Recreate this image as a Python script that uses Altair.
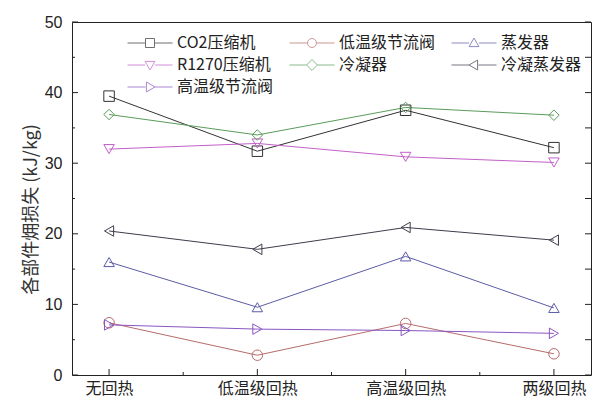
import json
import altair as alt
import pandas as pd

# Heat-recovery configurations (x axis)
categories = ["无回热", "低温级回热", "高温级回热", "两级回热"]

# Components (legend order)
series = ["CO2压缩机", "低温级节流阀", "蒸发器", "R1270压缩机", "冷凝器", "冷凝蒸发器", "高温级节流阀"]

# Exergy loss of each component, kJ/kg
co2_compressor = [39.5, 31.7, 37.5, 32.2]
low_stage_valve = [7.4, 2.8, 7.3, 3.0]
evaporator = [16.0, 9.6, 16.8, 9.5]
r1270_compressor = [32.0, 32.8, 30.9, 30.1]
condenser = [36.9, 34.0, 37.9, 36.8]
cascade_condenser = [20.4, 17.8, 20.9, 19.1]
high_stage_valve = [7.1, 6.5, 6.3, 5.9]

colors = ["#333333", "#b86b6b", "#5c5ca6", "#c25fc9", "#5a9c5a", "#3d3d4d", "#8a55c2"]
shapes = ["square", "circle", "triangle-up", "triangle-down", "diamond", "triangle-left", "triangle-right"]

# Legend glyphs: a short line with the hollow marker in its middle
legend_paths = [
    "M-1,0H-0.2M0.2,0H1M-0.2,-0.2H0.2V0.2H-0.2Z",
    "M-1,0H-0.2M0.2,0H1M-0.2,0A0.2,0.2,0,1,1,0.2,0A0.2,0.2,0,1,1,-0.2,0Z",
    "M-1,0H-0.22M0.22,0H1M0,-0.22L0.22,0.16H-0.22Z",
    "M-1,0H-0.22M0.22,0H1M0,0.22L0.22,-0.16H-0.22Z",
    "M-1,0H-0.24M0.24,0H1M0,-0.24L0.24,0L0,0.24L-0.24,0Z",
    "M-1,0H-0.2M0.2,0H1M-0.22,0L0.16,-0.22V0.22Z",
    "M-1,0H-0.2M0.2,0H1M0.22,0L-0.16,-0.22V0.22Z",
]

values = [co2_compressor, low_stage_valve, evaporator, r1270_compressor,
          condenser, cascade_condenser, high_stage_valve]

rows = []
for name, vals in zip(series, values):
    for i, v in enumerate(vals):
        rows.append({"idx": i, "series": name, "value": v})
df = pd.DataFrame(rows)

y_major = [0, 10, 20, 30, 40, 50]
y_minor = [5, 15, 25, 35, 45]
x_major = [0, 1, 2, 3]
x_minor = [0.5, 1.5, 2.5]

W, H = 519, 353

x_scale = alt.Scale(domain=[-0.25, 3.25], nice=False, zero=False)
y_scale = alt.Scale(domain=[0, 50], nice=False)

label_expr = json.dumps(categories, ensure_ascii=False) + "[datum.value]"

x_axis = alt.Axis(
    values=x_major, labelExpr=label_expr, ticks=False, domain=False, grid=False,
    title=None, labelFont="Noto Sans CJK SC", labelFontSize=16, labelColor="#222",
    labelPadding=5)
y_axis = alt.Axis(
    values=y_major, ticks=False, domain=False, grid=False,
    title="各部件㶲损失 (kJ/kg)", titleFont="Noto Sans CJK SC", titleFontSize=18,
    titleFontWeight="normal", titleColor="#333", titleAngle=270,
    titleBaseline="middle", titleX=-41, titleY=187,
    labelFont="Liberation Sans", labelFontSize=16, labelColor="#222", labelPadding=10)

X = alt.X("idx:Q", scale=x_scale, axis=x_axis)
Y = alt.Y("value:Q", scale=y_scale, axis=y_axis)

color_scale = alt.Scale(domain=series, range=colors)

lines = alt.Chart(df).mark_line(strokeWidth=1).encode(
    x=X, y=Y,
    color=alt.Color("series:N", scale=color_scale, legend=None),
    detail="series:N",
)

points = alt.Chart(df).mark_point(filled=False, size=110, strokeWidth=1, opacity=1).encode(
    x=X, y=Y,
    color=alt.Color("series:N", scale=color_scale, legend=None),
    shape=alt.Shape("series:N", scale=alt.Scale(domain=series, range=shapes), legend=None),
)

legend = alt.Legend(
    title=None, orient="none", legendX=55, legendY=10, columns=3, direction="horizontal",
    padding=0, rowPadding=0, columnPadding=15, clipHeight=22,
    symbolSize=2025, symbolStrokeWidth=1, symbolOffset=0, labelOffset=4,
    labelFont="Noto Sans CJK SC", labelFontSize=16, labelColor="#222",
    gridAlign="each",
)

legend_layer = alt.Chart(df).transform_filter("false").mark_point(filled=False, strokeWidth=1).encode(
    x=X, y=Y,
    color=alt.Color("series:N", scale=color_scale, legend=legend),
    shape=alt.Shape("series:N", scale=alt.Scale(domain=series, range=legend_paths), legend=legend),
)

# Inward-pointing ticks on the frame
tick_color = "#222"
ym = pd.DataFrame({"value": y_major})
yn = pd.DataFrame({"value": y_minor})
xm = pd.DataFrame({"idx": x_major})
xn = pd.DataFrame({"idx": x_minor})

def yrule(data, x0, x1):
    return alt.Chart(data).mark_rule(color=tick_color, strokeWidth=1).encode(
        y=Y, x=alt.value(x0), x2=alt.value(x1))

def xrule(data, y0, y1):
    return alt.Chart(data).mark_rule(color=tick_color, strokeWidth=1).encode(
        x=X, y=alt.value(y0), y2=alt.value(y1))

ticks = [
    yrule(ym, 0, 6), yrule(yn, 0, 3),
    yrule(ym, W, W - 6), yrule(yn, W, W - 6),
    xrule(xm, H, H - 6), xrule(xn, H, H - 3),
]

chart = alt.layer(lines, points, legend_layer, *ticks).resolve_scale(
    shape="independent", color="independent"
).properties(
    width=W, height=H,
    autosize=alt.AutoSizeParams(type="none"),
    padding={"left": 72, "top": 22, "right": 2, "bottom": 25},
    background="white",
).configure_view(stroke="#222", strokeWidth=1)

chart.save("out.html", embed_options={"renderer": "svg", "actions": False})
